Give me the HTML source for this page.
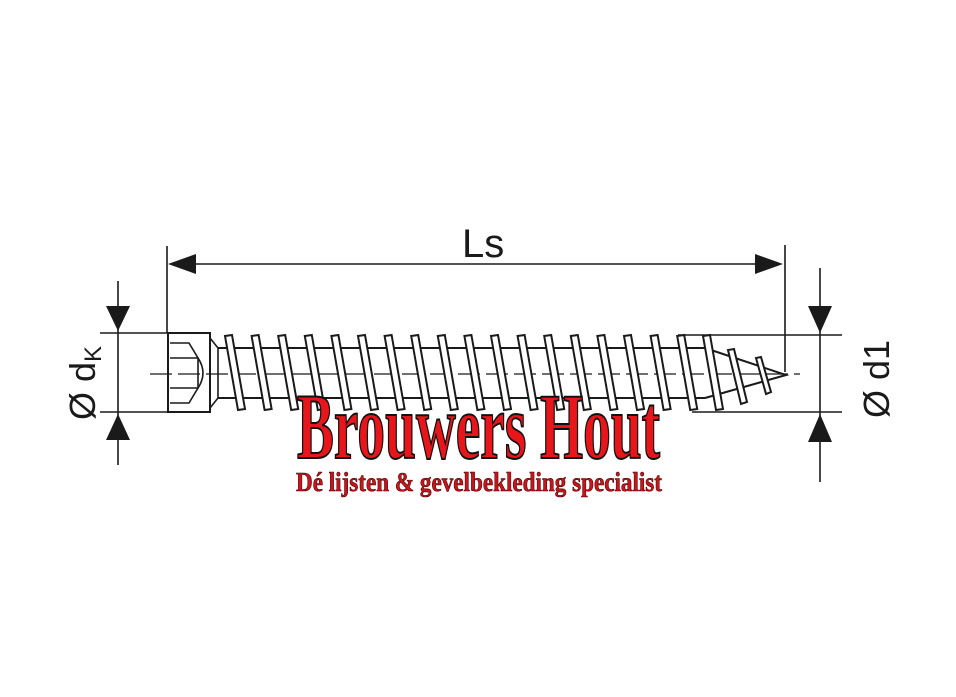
<!DOCTYPE html>
<html><head><meta charset="utf-8"><style>html,body{margin:0;padding:0;background:#fff}svg{display:block}</style></head>
<body>
<svg width="956" height="697" viewBox="0 0 956 697" xmlns="http://www.w3.org/2000/svg">
<defs>
<path id="th" d="M0,336 L13,410 L20,409 L7,335 Z" fill="#fff" stroke="#1a1a1a" stroke-width="2"/>
</defs>
<g stroke="#1a1a1a" stroke-width="1.6" fill="none">
<line x1="167" y1="246" x2="167" y2="333"/>
<line x1="785" y1="245" x2="785" y2="372"/>
<line x1="190" y1="264" x2="762" y2="264"/>
<line x1="118" y1="281" x2="118" y2="465"/>
<line x1="100" y1="333" x2="168" y2="333"/>
<line x1="100" y1="412" x2="168" y2="412"/>
<line x1="820" y1="268" x2="820" y2="482"/>
<line x1="678" y1="335" x2="842" y2="335"/>
<line x1="692" y1="412" x2="842" y2="412"/>
<line x1="218" y1="348" x2="705" y2="348" stroke-width="2"/>
<line x1="218" y1="398" x2="705" y2="398" stroke-width="2"/>
<path d="M705,348 L786,375 L705,398" stroke-width="2"/>
<rect x="168" y="333" width="42" height="79" stroke-width="2"/>
<path d="M170,343 L189,343 L198,358 L198,388 L189,403 L170,403"/>
<path d="M198,358 Q208,373 198,388"/>
<line x1="170" y1="358" x2="198" y2="358"/><line x1="170" y1="388" x2="198" y2="388"/>
<path d="M210,338 L218,348 L218,398 L210,408"/>
<line x1="150" y1="374" x2="800" y2="374" stroke-dasharray="22,6" stroke-width="1.2"/>
</g>
<g fill="#1a1a1a">
<polygon points="168,264 196,254 196,274"/>
<polygon points="783,264 755,254 755,274"/>
<polygon points="118,331 106,306 130,306"/>
<polygon points="118,414 106,440 130,440"/>
<polygon points="820,333 808,306 832,306"/>
<polygon points="820,414 808,442 832,442"/>
</g>
<g transform="translate(225,0)">
<use href="#th" x="0"/><use href="#th" x="26.6"/><use href="#th" x="53.2"/><use href="#th" x="79.8"/>
<use href="#th" x="106.4"/><use href="#th" x="133"/><use href="#th" x="159.6"/><use href="#th" x="186.2"/>
<use href="#th" x="212.8"/><use href="#th" x="239.4"/><use href="#th" x="266"/><use href="#th" x="292.6"/>
<use href="#th" x="319.2"/><use href="#th" x="345.8"/><use href="#th" x="372.4"/><use href="#th" x="399"/>
<use href="#th" x="425.6"/><use href="#th" x="452.2"/><use href="#th" x="478"/>
</g>
<g stroke="#1a1a1a" stroke-width="2" fill="#fff">
<path d="M728,350 L741,404 L747,402 L734,349 Z"/>
<path d="M756,358 L766,394 L771,392 L761,357 Z"/>
</g>
<text x="462" y="257" font-family="Liberation Sans, sans-serif" font-size="40" fill="#1a1a1a">Ls</text>
<text transform="translate(95,420) rotate(-90)" font-family="Liberation Sans, sans-serif" font-size="36" fill="#1a1a1a">Ø d<tspan font-size="24" dy="6">K</tspan></text>
<text transform="translate(889,418) rotate(-90)" font-family="Liberation Sans, sans-serif" font-size="36" fill="#1a1a1a">Ø d1</text>
<text x="297" y="458" font-family="Liberation Serif, serif" font-weight="bold" font-size="93" fill="#e8161b" stroke="#111" stroke-width="2" textLength="363" lengthAdjust="spacingAndGlyphs">Brouwers Hout</text>
<text x="296" y="491" font-family="Liberation Serif, serif" font-weight="bold" font-size="27" fill="#c8141a" stroke="#3a0000" stroke-width="0.6" textLength="366" lengthAdjust="spacingAndGlyphs">Dé lijsten &amp; gevelbekleding specialist</text>
</svg>
</body></html>
